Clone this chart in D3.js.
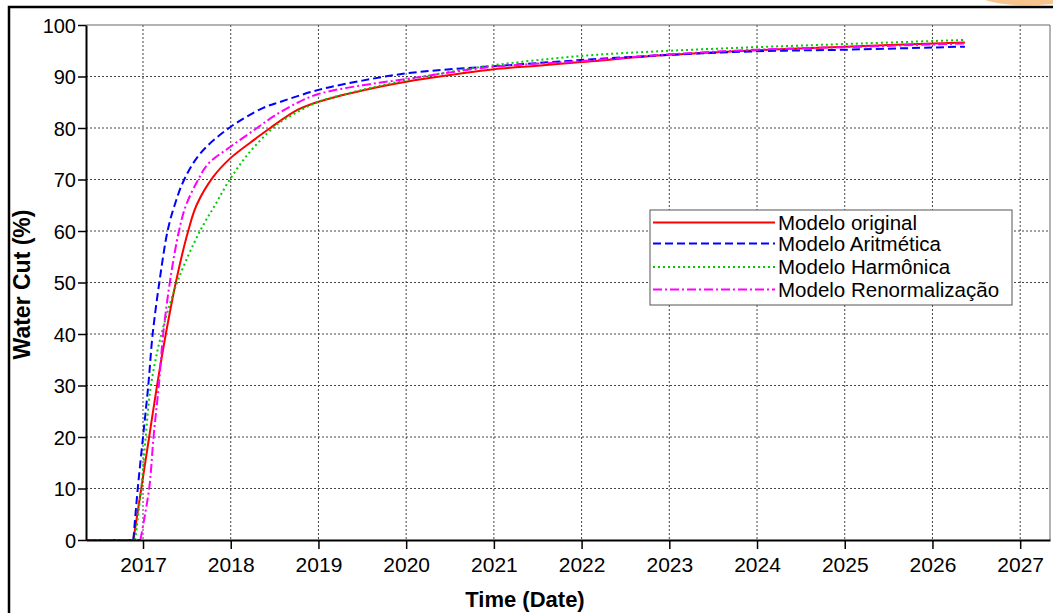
<!DOCTYPE html>
<html>
<head>
<meta charset="utf-8">
<script src="https://cdn.jsdelivr.net/npm/d3@7"></script>
<style>
  body { margin: 0; background: #fff; }
  text { font-family: "Liberation Sans", Arial, sans-serif; fill: #000; }
</style>
</head>
<body>
<div class="canvas"></div>
<script>
const width = 1053, height = 613;
const margin = {top: 25, right: 3, bottom: 73, left: 86};
const graphWidth = width - margin.left - margin.right;
const graphHeight = height - margin.top - margin.bottom;

// decimal years
const xTicks = [2017, 2018, 2019, 2020, 2021, 2022, 2023, 2024, 2025, 2026, 2027];
const yTicks = [0, 10, 20, 30, 40, 50, 60, 70, 80, 90, 100];

const seriesNames = ["Modelo original", "Modelo Aritmética", "Modelo Harmônica", "Modelo Renormalização"];

const originalT = [2016.35, 2016.89, 2016.98, 2017.07, 2017.16, 2017.26, 2017.38, 2017.515, 2017.61, 2017.80, 2018.0, 2018.29, 2018.45, 2018.76, 2019.0, 2019.5, 2020.0, 2020.5, 2021.0, 2021.5, 2022.0, 2023.0, 2024.0, 2025.0, 2026.37];
const originalV = [0, 0, 10, 20, 30, 40, 50.5, 60, 65, 70.5, 74.2, 78, 80, 83.5, 85.1, 87.3, 89.0, 90.3, 91.4, 92.1, 92.8, 94.2, 95.1, 95.8, 96.6];

const aritT = [2016.35, 2016.89, 2016.94, 2017.0, 2017.06, 2017.11, 2017.19, 2017.28, 2017.36, 2017.47, 2017.65, 2017.98, 2018.37, 2018.57, 2019.0, 2019.5, 2020.0, 2020.5, 2021.0, 2022.0, 2023.0, 2024.0, 2025.0, 2026.37];
const aritV = [0, 0, 10, 20, 30, 40, 50.5, 60, 65, 70, 75, 80, 83.9, 85.1, 87.4, 89.2, 90.6, 91.4, 92.0, 93.2, 94.2, 94.9, 95.2, 95.8];

const harmT = [2016.35, 2016.91, 2016.98, 2017.03, 2017.09, 2017.21, 2017.40, 2017.65, 2017.82, 2017.99, 2018.2, 2018.48, 2018.57, 2018.76, 2019.0, 2019.5, 2020.0, 2020.5, 2021.0, 2022.0, 2023.0, 2024.0, 2025.0, 2026.37];
const harmV = [0, 0, 10, 20, 30, 40, 50.5, 60, 65, 70, 75, 80, 81.2, 83.1, 85.1, 87.4, 89.3, 90.9, 92.2, 94.0, 95.0, 95.7, 96.3, 97.1];

const renormT = [2016.35, 2016.97, 2017.07, 2017.12, 2017.18, 2017.23, 2017.31, 2017.41, 2017.49, 2017.63, 2017.74, 2018.0, 2018.3, 2018.5, 2018.76, 2019.0, 2019.5, 2020.0, 2020.5, 2021.0, 2022.0, 2023.0, 2024.0, 2025.0, 2026.37];
const renormV = [0, 0, 10, 20, 30, 40, 50.5, 60, 65, 70, 73, 76.4, 80, 82.4, 84.9, 86.6, 88.3, 89.5, 90.8, 91.9, 93.0, 94.3, 95.2, 95.7, 96.4];

const colours = ["#ff0000", "#0000ff", "#00cc00", "#ff00ff"];
const dashes = [null, "8,4", "2,3", "9,3,2,3"];

const series = [
  {t: originalT, v: originalV},
  {t: aritT, v: aritV},
  {t: harmT, v: harmV},
  {t: renormT, v: renormV}
].map((s, i) => ({name: seriesNames[i], pts: s.t.map((t, j) => [t, s.v[j]])}));

const svg = d3.select('.canvas')
  .append('svg')
  .attr('width', width)
  .attr('height', height);

// outer frame and corner decoration
svg.append('path')
  .attr('d', 'M985,0 Q1010,8 1053,4 L1053,0 Z')
  .attr('fill', '#f6c48c');
svg.append('path')
  .attr('d', `M9,${height} L9,7 L${width},7`)
  .attr('fill', 'none')
  .attr('stroke', '#000')
  .attr('stroke-width', 2.5);

const graph = svg.append('g')
  .attr('transform', `translate(${margin.left}, ${margin.top})`);

const x = d3.scaleLinear().domain([2016.35, 2027.34]).range([0, graphWidth]);
const y = d3.scaleLinear().domain([0, 100]).range([graphHeight, 0]);

// grid
graph.append('g').selectAll('line')
  .data(xTicks)
  .join('line')
  .attr('x1', d => x(d)).attr('x2', d => x(d))
  .attr('y1', 0).attr('y2', graphHeight)
  .attr('stroke', '#444').attr('stroke-width', 1)
  .attr('stroke-dasharray', '2,2');
graph.append('g').selectAll('line')
  .data(yTicks.filter(d => d > 0 && d < 100))
  .join('line')
  .attr('x1', 0).attr('x2', graphWidth)
  .attr('y1', d => y(d)).attr('y2', d => y(d))
  .attr('stroke', '#444').attr('stroke-width', 1)
  .attr('stroke-dasharray', '2,2');

// top / right border
graph.append('path')
  .attr('d', `M0,0 L${graphWidth},0 L${graphWidth},${graphHeight}`)
  .attr('fill', 'none')
  .attr('stroke', '#666')
  .attr('stroke-width', 1);

// lines: flat zero part straight, rising part smooth
const flatLine = d3.line().x(d => x(d[0])).y(d => y(d[1]));
const riseLine = d3.line().x(d => x(d[0])).y(d => y(d[1])).curve(d3.curveCatmullRom.alpha(0.5));
series.forEach((s, i) => {
  [flatLine(s.pts.slice(0, 2)), riseLine(s.pts.slice(1))].forEach(dStr => {
    graph.append('path')
      .attr('d', dStr)
      .attr('fill', 'none')
      .attr('stroke', colours[i])
      .attr('stroke-width', 2)
      .attr('stroke-dasharray', dashes[i]);
  });
});

// axes
const xAxis = d3.axisBottom(x).tickValues(xTicks).tickFormat(d3.format('d')).tickSize(9).tickSizeOuter(0);
const yAxis = d3.axisLeft(y).tickValues(yTicks).tickSize(8).tickSizeOuter(0);

const xAxisGroup = graph.append('g')
  .attr('transform', `translate(0, ${graphHeight})`)
  .call(xAxis);
const yAxisGroup = graph.append('g').call(yAxis);

[xAxisGroup, yAxisGroup].forEach(g => {
  g.select('.domain').attr('stroke', '#000').attr('stroke-width', 2);
  g.selectAll('.tick line').attr('stroke', '#000').attr('stroke-width', 1.5);
  g.selectAll('.tick text').attr('fill', '#000')
    .attr('font-family', '"Liberation Sans", Arial, sans-serif');
});
xAxisGroup.selectAll('.tick text').attr('font-size', 21).attr('y', 0).attr('dy', 32);
yAxisGroup.selectAll('.tick text').attr('font-size', 20).attr('x', -10).attr('dy', '0.36em');

// titles
svg.append('text')
  .attr('x', 525)
  .attr('y', 607)
  .attr('text-anchor', 'middle')
  .attr('font-size', 22)
  .attr('font-weight', 'bold')
  .text('Time (Date)');
svg.append('text')
  .attr('transform', `translate(30, ${margin.top + graphHeight / 2 + 2}) rotate(-90)`)
  .attr('text-anchor', 'middle')
  .attr('font-size', 23)
  .attr('font-weight', 'bold')
  .text('Water Cut (%)');

// legend
const legend = svg.append('g').attr('transform', 'translate(650, 210)');
legend.append('rect')
  .attr('width', 362).attr('height', 95)
  .attr('fill', '#fff').attr('stroke', '#555').attr('stroke-width', 1);
const rowY = [12.5, 33.5, 57, 79.5];
seriesNames.forEach((n, i) => {
  legend.append('line')
    .attr('x1', 3).attr('x2', 125)
    .attr('y1', rowY[i]).attr('y2', rowY[i])
    .attr('stroke', colours[i]).attr('stroke-width', 2)
    .attr('stroke-dasharray', dashes[i]);
  legend.append('text')
    .attr('x', 128).attr('y', rowY[i])
    .attr('dy', '0.36em')
    .attr('font-size', 20.5)
    .text(n);
});
</script>
</body>
</html>
